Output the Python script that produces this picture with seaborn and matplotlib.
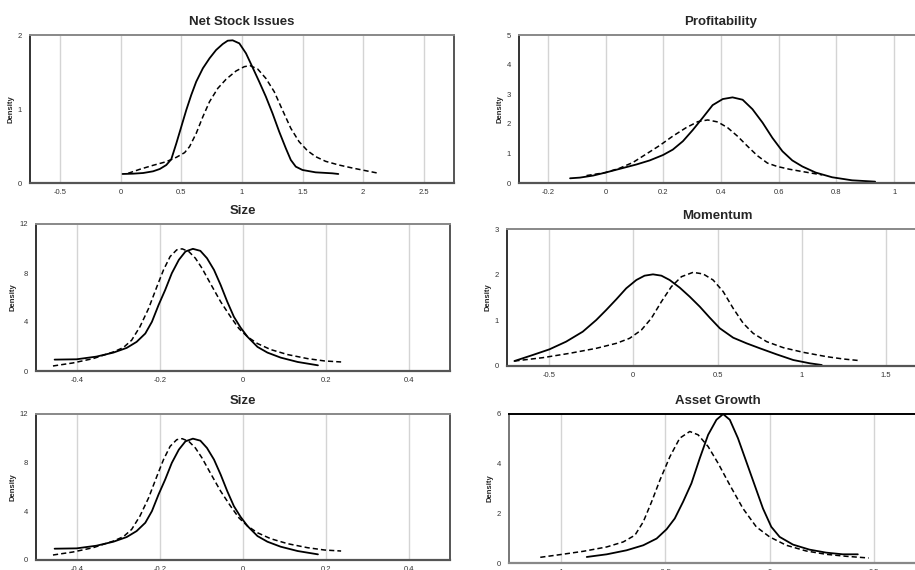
import seaborn as sns
import matplotlib.pyplot as plt
from matplotlib.ticker import MultipleLocator

# Net Stock Issues
nsi_solid_x = [0.014, 0.101, 0.184, 0.266, 0.321, 0.375, 0.416, 0.458, 0.499, 0.540, 0.581, 0.622, 0.677, 0.732,
               0.786, 0.841, 0.882, 0.923, 0.978, 1.033, 1.082, 1.142, 1.197, 1.252, 1.307, 1.362, 1.403, 1.444,
               1.499, 1.608, 1.745, 1.795]
nsi_solid_y = [0.122, 0.126, 0.135, 0.158, 0.189, 0.243, 0.32, 0.536, 0.761, 0.986, 1.189, 1.369, 1.550, 1.685,
               1.797, 1.878, 1.923, 1.928, 1.887, 1.752, 1.581, 1.369, 1.167, 0.941, 0.694, 0.468, 0.311, 0.221,
               0.176, 0.144, 0.131, 0.122]
nsi_dash_x = [0.06, 0.156, 0.266, 0.375, 0.458, 0.526, 0.567, 0.622, 0.677, 0.732, 0.800, 0.868, 0.951, 1.019,
              1.066, 1.129, 1.197, 1.266, 1.334, 1.403, 1.471, 1.540, 1.608, 1.690, 1.800, 1.910, 2.019, 2.129]
nsi_dash_y = [0.131, 0.185, 0.239, 0.288, 0.347, 0.410, 0.491, 0.671, 0.896, 1.099, 1.279, 1.401, 1.514, 1.572,
              1.586, 1.541, 1.414, 1.234, 0.986, 0.739, 0.559, 0.437, 0.356, 0.293, 0.243, 0.203, 0.167, 0.131]

# Profitability
prof_solid_x = [-0.123, -0.089, -0.043, 0.0, 0.049, 0.107, 0.153, 0.199, 0.233, 0.268, 0.302, 0.337, 0.371, 0.406,
                0.440, 0.475, 0.509, 0.544, 0.578, 0.613, 0.647, 0.682, 0.728, 0.785, 0.854, 0.934]
prof_solid_y = [0.159, 0.182, 0.251, 0.353, 0.478, 0.626, 0.763, 0.945, 1.128, 1.412, 1.788, 2.210, 2.631, 2.836,
                2.893, 2.813, 2.494, 2.039, 1.526, 1.071, 0.763, 0.558, 0.353, 0.194, 0.091, 0.046]
prof_dash_x = [-0.066, 0.0, 0.049, 0.095, 0.141, 0.187, 0.233, 0.279, 0.320, 0.354, 0.389, 0.423, 0.457, 0.492,
               0.526, 0.561, 0.595, 0.636, 0.682, 0.716, 0.751]
prof_dash_y = [0.251, 0.353, 0.501, 0.695, 0.979, 1.264, 1.583, 1.868, 2.073, 2.130, 2.062, 1.868, 1.583, 1.241,
               0.923, 0.672, 0.558, 0.467, 0.387, 0.330, 0.273]

# Size
size_solid_x = [-0.455, -0.402, -0.354, -0.313, -0.281, -0.257, -0.236, -0.220, -0.204, -0.188, -0.172, -0.155,
                -0.139, -0.121, -0.103, -0.087, -0.070, -0.054, -0.038, -0.022, -0.006, 0.011, 0.035, 0.059,
                0.091, 0.132, 0.181]
size_solid_y = [0.929, 0.956, 1.175, 1.503, 1.885, 2.377, 3.060, 4.016, 5.383, 6.612, 7.978, 9.071, 9.754, 9.973,
                9.809, 9.208, 8.251, 7.022, 5.656, 4.426, 3.552, 2.787, 1.967, 1.503, 1.093, 0.738, 0.464]
size_dash_x = [-0.459, -0.411, -0.362, -0.313, -0.289, -0.269, -0.249, -0.228, -0.208, -0.192, -0.176, -0.160,
               -0.147, -0.131, -0.115, -0.099, -0.079, -0.054, -0.030, -0.010, 0.011, 0.035, 0.067, 0.108, 0.156,
               0.197, 0.237]
size_dash_y = [0.410, 0.656, 1.011, 1.557, 1.913, 2.514, 3.607, 5.109, 6.885, 8.251, 9.344, 9.891, 9.973, 9.754,
               9.208, 8.388, 7.158, 5.656, 4.426, 3.470, 2.787, 2.240, 1.749, 1.339, 1.011, 0.820, 0.738]

# Momentum
mom_solid_x = [-0.706, -0.597, -0.498, -0.399, -0.300, -0.220, -0.161, -0.101, -0.042, 0.018, 0.067, 0.117, 0.167,
               0.216, 0.276, 0.335, 0.395, 0.454, 0.514, 0.593, 0.673, 0.752, 0.851, 0.950, 1.050, 1.119]
mom_solid_y = [0.109, 0.241, 0.365, 0.533, 0.752, 1.007, 1.226, 1.460, 1.701, 1.883, 1.978, 2.007, 1.978, 1.883,
               1.715, 1.518, 1.299, 1.058, 0.825, 0.620, 0.496, 0.387, 0.255, 0.131, 0.058, 0.022]
mom_dash_x = [-0.706, -0.538, -0.379, -0.220, -0.101, -0.022, 0.048, 0.107, 0.167, 0.226, 0.286, 0.355, 0.415,
              0.474, 0.534, 0.593, 0.653, 0.712, 0.792, 0.891, 1.010, 1.149, 1.248, 1.347]
mom_dash_y = [0.109, 0.182, 0.277, 0.387, 0.496, 0.606, 0.788, 1.044, 1.409, 1.737, 1.956, 2.051, 2.015, 1.883,
              1.628, 1.263, 0.934, 0.715, 0.533, 0.401, 0.299, 0.204, 0.153, 0.117]

# Asset Growth
ag_solid_x = [-0.877, -0.781, -0.686, -0.606, -0.542, -0.494, -0.455, -0.415, -0.375, -0.335, -0.295, -0.255,
              -0.223, -0.191, -0.152, -0.112, -0.072, -0.032, 0.008, 0.048, 0.112, 0.191, 0.271, 0.351, 0.423]
ag_solid_y = [0.243, 0.350, 0.512, 0.714, 0.984, 1.361, 1.792, 2.466, 3.208, 4.218, 5.162, 5.768, 5.997, 5.768,
              5.027, 4.084, 3.140, 2.197, 1.456, 1.051, 0.741, 0.539, 0.418, 0.350, 0.350]
ag_dash_x = [-1.100, -1.005, -0.893, -0.781, -0.702, -0.646, -0.606, -0.566, -0.526, -0.478, -0.431, -0.383,
             -0.343, -0.295, -0.247, -0.191, -0.128, -0.064, 0.000, 0.080, 0.175, 0.271, 0.367, 0.475]
ag_dash_y = [0.229, 0.337, 0.472, 0.647, 0.849, 1.119, 1.658, 2.466, 3.342, 4.286, 5.027, 5.296, 5.162, 4.690,
             4.016, 3.140, 2.197, 1.456, 1.051, 0.714, 0.485, 0.350, 0.270, 0.202]

sns.set_style("white")
plt.rcParams['font.family'] = ['Liberation Sans', 'DejaVu Sans']

W, H = 915, 570
fig = plt.figure(figsize=(W / 100, H / 100), dpi=100)


def make_ax(left, right, top, bottom):
    return fig.add_axes([left / W, 1 - bottom / H, (right - left) / W, (bottom - top) / H])


def panel(ax, title, sx, sy, dx, dy, xlim, xmajor, ylim, yticks, top_color='#888888'):
    sns.lineplot(x=sx, y=sy, ax=ax, color='black', lw=1.3, sort=False, estimator=None,
                 solid_joinstyle='round', solid_capstyle='round')
    sns.lineplot(x=dx, y=dy, ax=ax, color='black', lw=1.1, sort=False, estimator=None,
                 linestyle=(0, (3.4, 2.0)), dash_joinstyle='round')
    ax.set_xlim(*xlim)
    ax.set_ylim(*ylim)
    ax.set_yticks(yticks)
    ax.set_yticklabels([f'{t:g}' for t in yticks])
    ax.xaxis.set_major_locator(MultipleLocator(xmajor))
    ax.xaxis.set_minor_locator(MultipleLocator(xmajor / 2))
    ax.xaxis.set_major_formatter(plt.FuncFormatter(lambda v, p: f'{v:g}'))
    ax.grid(axis='x', which='major', color='#d4d4d4', lw=1)
    ax.tick_params(axis='both', which='major', labelsize=5.5, colors='#333333', length=2, width=0.6, pad=4)
    ax.tick_params(axis='x', which='minor', length=2, width=0.6, color='#999999')
    ax.tick_params(axis='x', which='major', length=0)
    ax.set_title(title, fontsize=9.5, fontweight='bold', pad=7)
    ax.set_ylabel('Density', fontsize=5.5, fontweight='bold', labelpad=2)
    ax.set_xlabel('')
    ax.spines['left'].set_color('#333333')
    ax.spines['left'].set_linewidth(1.4)
    ax.spines['bottom'].set_color('#555555')
    ax.spines['bottom'].set_linewidth(1.6)
    ax.spines['top'].set_color(top_color)
    ax.spines['top'].set_linewidth(1.4)
    ax.spines['right'].set_color('#555555')
    ax.spines['right'].set_linewidth(1.4)


ax1 = make_ax(30, 454, 35, 183)
panel(ax1, 'Net Stock Issues', nsi_solid_x, nsi_solid_y, nsi_dash_x, nsi_dash_y,
      (-0.75, 2.75), 0.5, (0, 2), [0, 1, 2])

ax2 = make_ax(519, 923, 35, 183)
panel(ax2, 'Profitability', prof_solid_x, prof_solid_y, prof_dash_x, prof_dash_y,
      (-0.3, 1.1), 0.2, (0, 5), [0, 1, 2, 3, 4, 5])

ax3 = make_ax(36, 450, 224, 371)
panel(ax3, 'Size', size_solid_x, size_solid_y, size_dash_x, size_dash_y,
      (-0.5, 0.5), 0.2, (0, 12), [0, 4, 8, 12])

ax4 = make_ax(507, 928, 229, 366)
panel(ax4, 'Momentum', mom_solid_x, mom_solid_y, mom_dash_x, mom_dash_y,
      (-0.75, 1.75), 0.5, (0, 3), [0, 1, 2, 3])

ax5 = make_ax(36, 450, 414, 560)
panel(ax5, 'Size', size_solid_x, size_solid_y, size_dash_x, size_dash_y,
      (-0.5, 0.5), 0.2, (0, 12), [0, 4, 8, 12])

ax6 = make_ax(509, 926, 414, 563)
panel(ax6, 'Asset Growth', ag_solid_x, ag_solid_y, ag_dash_x, ag_dash_y,
      (-1.25, 0.75), 0.5, (0, 6), [0, 2, 4, 6], top_color='black')
ax6.spines['left'].set_color('#777777')
ax6.spines['bottom'].set_color('#888888')

fig.savefig('out.png', dpi=100)
